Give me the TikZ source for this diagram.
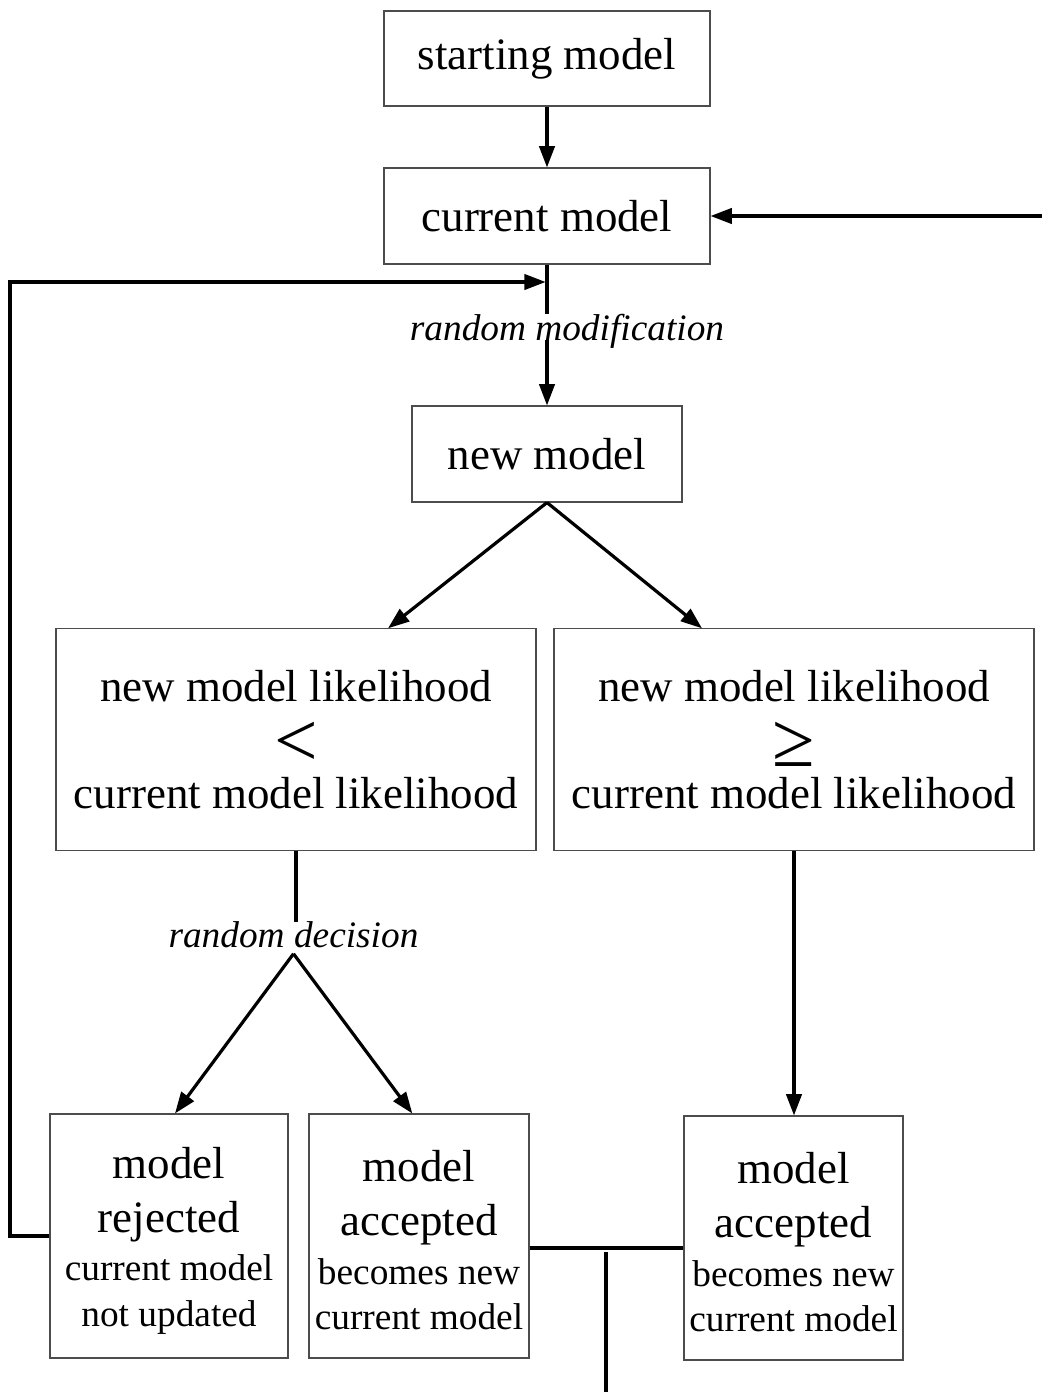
\documentclass[tikz,border=0pt]{standalone}
\usepackage{fontspec}
\usepackage{graphicx}
\setmainfont{Liberation Serif}
\usetikzlibrary{arrows.meta,calc}
\newcommand\smallfs{\fontsize{28}{34}\selectfont}
\newcommand\relsym[1]{\smash{\raisebox{-9pt}{\fontsize{58}{40}\selectfont #1}}}
\newcommand\topstrut{\rule{0pt}{30pt}}
\begin{document}
\begin{tikzpicture}[x=0.75pt,y=-0.75pt,
  box/.style={draw=black!70,line width=0.8pt,inner sep=0pt,align=center},
  big/.style={font=\fontsize{33.7}{40}\selectfont},
  bigb/.style={font=\fontsize{33.7}{34}\selectfont},
  conn/.style={line width=2.4pt},
  arr/.style={conn,-{Triangle[length=16pt,width=11.5pt]}},
  lab/.style={font=\fontsize{28}{34}\selectfont\itshape,inner sep=0pt}]
\useasboundingbox (0,0) rectangle (1042,1392);
% boxes
\node[box,big,minimum width=244.5pt,minimum height=71.25pt] (start) at (547,58.5) {starting model};
\node[box,big,minimum width=244.5pt,minimum height=72pt] (cur) at (547,216) {current model};
\node[box,big,minimum width=202.5pt,minimum height=72pt] (nm) at (547,454) {new model};
\node[box,big,minimum width=360pt,minimum height=166pt] (lb) at (296,739.5)
  {new model likelihood\\\relsym{<}\\current model likelihood};
\node[box,big,minimum width=360pt,minimum height=166pt] (rb) at (794,739.5)
  {new model likelihood\\\relsym{≥}\\current model likelihood};
\node[box,bigb,minimum width=178.5pt,minimum height=183pt] (rej) at (169,1236)
  {\topstrut model\\[6.5pt]rejected\\[2.5pt]\smallfs current model\\\smallfs not updated};
\node[box,bigb,minimum width=165pt,minimum height=183pt] (acc) at (419,1236)
  {\topstrut model\\[6.5pt]accepted\\[2.5pt]\smallfs becomes new\\\smallfs current model};
\node[box,bigb,minimum width=164.25pt,minimum height=183pt] (ra) at (793.5,1238)
  {\topstrut model\\[6.5pt]accepted\\[2.5pt]\smallfs becomes new\\\smallfs current model};
% labels
\node[lab] (rm) at (567,331) {random modification};
\node[lab] (rd) at (293.5,935) {random decision};
% coordinates
\coordinate (rin) at (1042,216);
\coordinate (fbT) at (10,282);
\coordinate (jt) at (606,1252);
\coordinate (bot) at (606,1392);
% connectors
\draw[arr] (start) -- (cur);
\draw[arr] (rin) -- (cur.east);
\draw[conn] (cur.south) -- (cur.south |- rm.north);
\draw[arr] (cur.south |- rm.base) -- (nm.north);
\draw[arr,shorten >=1pt] (rej.west) -- (rej.west -| fbT) -- (fbT) -- (fbT -| cur.south);
\draw[arr] (nm.south) -- ([xshift=69pt]lb.north);
\draw[arr] (nm.south) -- ([xshift=-69pt]rb.north);
\draw[conn] (lb.south) -- (lb.south |- rd.north);
\draw[arr] ([yshift=-4pt]rd.south) -- ([xshift=4.5pt]rej.north);
\draw[arr] ([yshift=-4pt]rd.south) -- ([xshift=-5pt]acc.north);
\draw[arr] (rb.south) -- (rb.south |- ra.north);
\draw[conn] ([yshift=-9pt]acc.east) -- ([yshift=-9pt]acc.east -| ra.west);
\draw[conn] (jt) -- (bot);
\end{tikzpicture}
\end{document}
